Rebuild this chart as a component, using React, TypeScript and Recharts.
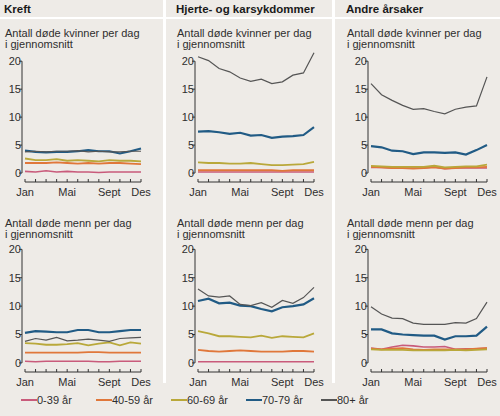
import { Line, LineChart, ReferenceLine, XAxis, YAxis } from "recharts";

const months = ["Jan", "Feb", "Mar", "Apr", "Mai", "Jun", "Jul", "Aug", "Sept", "Okt", "Nov", "Des"];
const shownMonths = ["Jan", "Mai", "Sept", "Des"];
const ageGroups = ["0-39 år", "40-59 år", "60-69 år", "70-79 år", "80+ år"];
const yTicks = [0, 5, 10, 15, 20];

// order: 0-39, 40-59, 60-69, 70-79, 80+
const kreftKvinner = [
  [0.3, 0.2, 0.4, 0.2, 0.3, 0.2, 0.2, 0.1, 0.2, 0.2, 0.2, 0.2],
  [1.8, 1.8, 1.8, 1.9, 1.8, 1.7, 1.8, 1.7, 1.8, 1.8, 1.7, 1.6],
  [2.6, 2.3, 2.3, 2.5, 2.2, 2.3, 2.2, 2.1, 2.3, 2.2, 2.2, 2.1],
  [4.0, 3.8, 3.7, 3.8, 3.8, 3.9, 4.1, 3.9, 3.9, 3.5, 3.9, 4.4],
  [3.8, 3.9, 3.8, 3.9, 3.9, 4.0, 3.8, 3.9, 3.8, 3.8, 3.9, 3.9],
];
const kreftMenn = [
  [0.3, 0.2, 0.3, 0.3, 0.3, 0.3, 0.3, 0.2, 0.2, 0.3, 0.3, 0.3],
  [1.8, 1.8, 1.8, 1.8, 1.8, 1.8, 1.9, 1.9, 1.8, 1.8, 1.8, 1.8],
  [3.5, 3.4, 3.2, 3.2, 3.3, 3.5, 3.1, 3.4, 3.6, 3.1, 3.6, 3.4],
  [5.3, 5.6, 5.5, 5.4, 5.4, 5.8, 5.8, 5.4, 5.4, 5.6, 5.8, 5.8],
  [3.8, 4.3, 4.0, 4.5, 3.9, 4.0, 4.2, 4.0, 3.8, 4.3, 4.4, 4.5],
];
const hjerteKvinner = [
  [0.2, 0.2, 0.2, 0.2, 0.2, 0.2, 0.2, 0.2, 0.2, 0.2, 0.2, 0.2],
  [0.5, 0.5, 0.5, 0.5, 0.5, 0.5, 0.5, 0.5, 0.4, 0.5, 0.5, 0.5],
  [1.9, 1.8, 1.8, 1.7, 1.7, 1.8, 1.6, 1.4, 1.4, 1.5, 1.6, 2.0],
  [7.4, 7.5, 7.3, 7.0, 7.2, 6.7, 6.8, 6.3, 6.5, 6.6, 6.8, 8.2],
  [20.8, 20.1, 18.7, 18.1, 17.0, 16.4, 16.8, 16.0, 16.3, 17.5, 17.9, 21.5],
];
const hjerteMenn = [
  [0.2, 0.2, 0.2, 0.2, 0.2, 0.2, 0.2, 0.2, 0.2, 0.2, 0.2, 0.2],
  [2.3, 2.1, 2.0, 2.1, 2.2, 2.1, 2.0, 2.0, 2.0, 2.1, 2.1, 2.0],
  [5.6, 5.2, 4.7, 4.7, 4.6, 4.5, 4.8, 4.4, 4.7, 4.6, 4.5, 5.2],
  [10.9, 11.3, 10.5, 10.6, 10.1, 10.0, 9.5, 9.1, 9.8, 10.0, 10.3, 11.4],
  [13.0, 11.8, 11.6, 11.8, 10.3, 10.1, 10.6, 9.8, 11.0, 10.5, 11.5, 13.3],
];
const andreKvinner = [
  [1.0, 1.0, 0.9, 0.9, 0.9, 0.9, 1.1, 0.8, 0.9, 0.9, 0.9, 0.9],
  [1.1, 1.0, 0.9, 0.9, 0.8, 0.9, 1.0, 0.8, 0.9, 1.0, 1.0, 1.1],
  [1.3, 1.2, 1.1, 1.1, 1.1, 1.1, 1.3, 1.0, 1.1, 1.2, 1.2, 1.5],
  [4.8, 4.6, 4.0, 3.9, 3.4, 3.7, 3.7, 3.6, 3.7, 3.3, 4.1, 5.0],
  [16.0, 14.0, 13.0, 12.1, 11.4, 11.5, 11.0, 10.6, 11.4, 11.8, 12.0, 17.2],
];
const andreMenn = [
  [2.6, 2.4, 2.8, 3.1, 3.0, 2.8, 2.8, 2.9, 2.4, 2.5, 2.5, 2.6],
  [2.5, 2.4, 2.5, 2.6, 2.4, 2.3, 2.4, 2.4, 2.4, 2.4, 2.5, 2.6],
  [2.4, 2.3, 2.3, 2.3, 2.2, 2.2, 2.2, 2.2, 2.3, 2.2, 2.3, 2.4],
  [5.9, 5.9, 5.2, 5.0, 4.9, 4.8, 4.8, 4.1, 4.7, 4.7, 4.8, 6.4],
  [9.9, 8.6, 7.9, 7.8, 7.0, 6.8, 6.8, 6.8, 7.1, 7.0, 7.8, 10.7],
];

const COLORS = ["#c95b7b", "#e0773a", "#b9a83a", "#215b85", "#555555"];
const WIDTHS = [1.6, 1.8, 1.8, 2.2, 1.2];
const BG = "#eeebe7";
const FONT = "'Liberation Sans', Arial, sans-serif";
const TEXT = "#2e2e2e";

const columns = [
  { title: "Kreft", textLeft: 4, chartLeft: 0, women: kreftKvinner, men: kreftMenn },
  { title: "Hjerte- og karsykdommer", textLeft: 176, chartLeft: 173, women: hjerteKvinner, men: hjerteMenn },
  { title: "Andre årsaker", textLeft: 346, chartLeft: 346, women: andreKvinner, men: andreMenn },
];

const rows = [
  { key: "women", label: "Antall døde kvinner per dag", textTop: 28, chartTop: 45, plotHeight: 132 },
  { key: "men", label: "Antall døde menn per dag", textTop: 218, chartTop: 233, plotHeight: 134 },
];

const toRows = (series: number[][]) =>
  months.map((m, i) => {
    const row: Record<string, number | string> = { m };
    series.forEach((s, k) => {
      row[`s${k}`] = s[i];
    });
    return row;
  });

function Panel({ series, plotHeight }: { series: number[][]; plotHeight: number }) {
  const data = toRows(series);
  return (
    <LineChart
      width={155}
      height={plotHeight + 27}
      data={data}
      margin={{ top: 5, right: 14, bottom: 0, left: 0 }}
    >
      <XAxis
        dataKey="m"
        interval={0}
        height={22}
        stroke="#333"
        tickSize={-3}
        tickMargin={9}
        tick={{ fontSize: 11, fill: TEXT, fontFamily: FONT }}
        tickFormatter={(v: string) => (shownMonths.includes(v) ? v : "")}
      />
      <YAxis
        type="number"
        domain={[-1.6, 22]}
        ticks={yTicks}
        width={25}
        axisLine={false}
        stroke="#333"
        tickSize={3}
        tickMargin={1}
        tick={{ fontSize: 11, fill: TEXT, fontFamily: FONT }}
      />
      <ReferenceLine
        segment={[
          { x: months[0], y: yTicks[0] },
          { x: months[0], y: yTicks[yTicks.length - 1] },
        ]}
        stroke="#333"
        strokeWidth={1}
      />
      {series.map((_, k) => (
        <Line
          key={k}
          dataKey={`s${k}`}
          stroke={COLORS[k]}
          strokeWidth={WIDTHS[k]}
          dot={false}
          isAnimationActive={false}
        />
      ))}
    </LineChart>
  );
}

export default function App() {
  return (
    <div style={{ position: "relative", width: 500, height: 416, background: BG, fontFamily: FONT, color: TEXT, overflow: "hidden" }}>
      <style>{`
        body { margin: 0; }
        .recharts-yAxis, .recharts-reference-line { transform: translateX(-3px); }
      `}</style>
      {/* white dividers */}
      <div style={{ position: "absolute", left: 0, top: 17, width: 500, height: 2, background: "#fff" }} />
      <div style={{ position: "absolute", left: 163, top: 0, width: 3, height: 383, background: "#fff" }} />
      <div style={{ position: "absolute", left: 332, top: 0, width: 3, height: 383, background: "#fff" }} />

      {columns.map((col) => (
        <div key={col.title}>
          <div style={{ position: "absolute", left: col.textLeft, top: 2, fontSize: 11.5, fontWeight: "bold", color: "#1a1a1a", lineHeight: "15px" }}>
            {col.title}
          </div>
          {rows.map((r) => (
            <div key={r.key}>
              <div style={{ position: "absolute", left: col.textLeft + 1, top: r.textTop, fontSize: 11, lineHeight: "10.5px", whiteSpace: "nowrap" }}>
                {r.label}
                <br />i gjennomsnitt
              </div>
              <div style={{ position: "absolute", left: col.chartLeft, top: r.chartTop }}>
                <Panel series={r.key === "women" ? col.women : col.men} plotHeight={r.plotHeight} />
              </div>
            </div>
          ))}
        </div>
      ))}

      {/* legend */}
      {ageGroups.map((g, k) => (
        <div key={g} style={{ position: "absolute", left: 21 + k * 75, top: 393, display: "flex", alignItems: "center", fontSize: 11, height: 14 }}>
          <span style={{ display: "inline-block", width: 16, height: 2, background: COLORS[k] }} />
          <span>{g}</span>
        </div>
      ))}
    </div>
  );
}
